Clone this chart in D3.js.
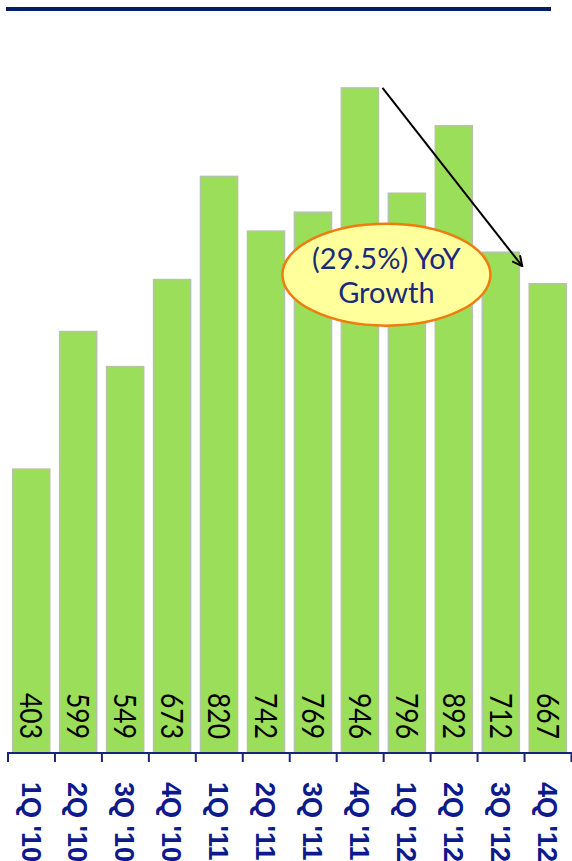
<!DOCTYPE html>
<html>
<head>
<meta charset="utf-8">
<script src="https://cdn.jsdelivr.net/npm/d3@7"></script>
<style>
  body { margin: 0; background: #fff; }
  svg { display: block; }
</style>
</head>
<body>
<div id="vis"></div>
<script>
// Datos del grafico
const QUARTERS = ["1Q '10", "2Q '10", "3Q '10", "4Q '10", "1Q '11", "2Q '11", "3Q '11", "4Q '11", "1Q '12", "2Q '12", "3Q '12", "4Q '12"];
const VALUES = [403, 599, 549, 673, 820, 742, 769, 946, 796, 892, 712, 667];
const CALLOUT = ["(29.5%) YoY", "Growth"];

const WIDTH = 572;
const HEIGHT = 861;

const SVG = d3.select("#vis").append("svg").attr("width", WIDTH).attr("height", HEIGHT);

const data = QUARTERS.map((q, i) => ({ q: q, v: VALUES[i] }));

// Escalas
const x = d3.scaleBand()
    .domain(QUARTERS)
    .range([8, 571])
    .paddingInner(0.21)
    .paddingOuter(0.1);

const y = d3.scaleLinear()
    .domain([0, 1000])
    .range([752, 50]);

// Linea superior
SVG.append("rect").attr("x", 6).attr("y", 7).attr("width", 545).attr("height", 4).attr("fill", "#002060");

// Barras
SVG.selectAll(".barra").data(data).join("rect")
    .attr("class", "barra")
    .attr("x", d => x(d.q))
    .attr("y", d => y(d.v))
    .attr("width", x.bandwidth())
    .attr("height", d => y(0) - y(d.v))
    .attr("fill", "#9bde59")
    .attr("stroke", "#b7c2ab")
    .attr("stroke-width", 1.5);

// Etiquetas de valor (rotadas)
SVG.selectAll(".valor").data(data).join("text")
    .attr("class", "valor")
    .attr("transform", d => `translate(${x(d.q) + x.bandwidth() / 2}, ${y(0) - 36}) rotate(90)`)
    .attr("text-anchor", "middle")
    .attr("dy", "0.36em")
    .attr("font-family", "Lato, 'Open Sans', sans-serif")
    .attr("font-size", "30px")
    .attr("textLength", 46)
    .attr("lengthAdjust", "spacingAndGlyphs")
    .attr("fill", "#000")
    .text(d => d.v);

// Eje X
const step = x.step();
const x0 = x.range()[0];
const g = SVG.append("g");
g.append("line")
    .attr("x1", x0).attr("x2", x.range()[1])
    .attr("y1", y(0) + 1).attr("y2", y(0) + 1)
    .attr("stroke", "#1a237e").attr("stroke-width", 2);
g.selectAll(".tick").data(d3.range(QUARTERS.length + 1)).join("line")
    .attr("class", "tick")
    .attr("x1", i => x0 + i * step).attr("x2", i => x0 + i * step)
    .attr("y1", y(0)).attr("y2", y(0) + 10)
    .attr("stroke", "#1a237e").attr("stroke-width", 2);

g.selectAll(".etiqueta").data(QUARTERS).join("text")
    .attr("class", "etiqueta")
    .attr("transform", d => `translate(${x(d) + x.bandwidth() / 2}, ${y(0) + 30}) rotate(90)`)
    .attr("dy", "0.36em")
    .attr("font-family", "'Liberation Sans', Arial, sans-serif")
    .attr("font-weight", "bold")
    .attr("font-size", "27px")
    .attr("fill", "#0d1a8c")
    .text(d => d);

// Flecha
SVG.append("defs").append("marker")
    .attr("id", "punta")
    .attr("viewBox", "0 0 12 12")
    .attr("refX", 11).attr("refY", 6)
    .attr("markerWidth", 12).attr("markerHeight", 12)
    .attr("markerUnits", "userSpaceOnUse")
    .attr("orient", "auto")
    .append("path")
    .attr("d", "M1,1 L11,6 L1,11")
    .attr("fill", "none").attr("stroke", "#000").attr("stroke-width", 2);

const iPeak = VALUES.indexOf(d3.max(VALUES));
SVG.append("line")
    .attr("x1", x(QUARTERS[iPeak]) + x.bandwidth() + 4)
    .attr("y1", y(VALUES[iPeak]))
    .attr("x2", x(QUARTERS[11]) - (step - x.bandwidth()) / 2 - 2)
    .attr("y2", y(692))
    .attr("stroke", "#000").attr("stroke-width", 2)
    .attr("marker-end", "url(#punta)");

// Ovalo
const cx = x(QUARTERS[8]) - (step - x.bandwidth()) / 2 + 3;
const cy = y(680);
SVG.append("ellipse")
    .attr("cx", cx).attr("cy", cy)
    .attr("rx", 104).attr("ry", 51)
    .attr("fill", "#ffff9c")
    .attr("stroke", "#ef7d0e").attr("stroke-width", 2.5);

SVG.selectAll(".callout").data(CALLOUT).join("text")
    .attr("class", "callout")
    .attr("x", cx)
    .attr("y", (d, i) => cy - 6 + i * 34)
    .attr("text-anchor", "middle")
    .attr("font-family", "Lato, 'Open Sans', sans-serif")
    .attr("font-size", "29px")
    .attr("fill", "#1a2a7a")
    .text(d => d);
</script>
</body>
</html>
